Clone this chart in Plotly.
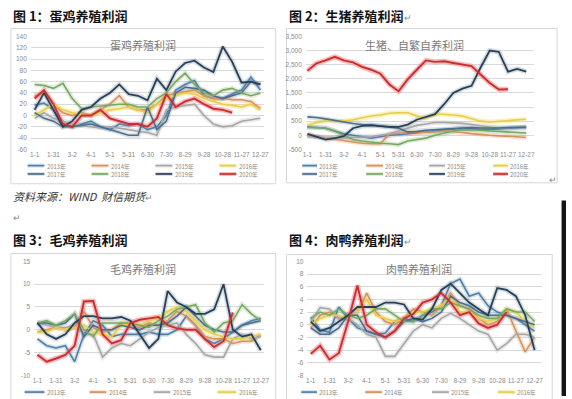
import plotly.graph_objects as go

W, H = 572, 399

# ---------------- data ----------------
DAYS = list(range(0, 361, 15))
TICK_DAYS = list(range(0, 361, 30))
TICK_LABELS = ["1-1", "1-31", "3-2", "4-1", "5-1", "5-31", "6-30", "7-30",
               "8-29", "9-28", "10-28", "11-27", "12-27"]
YEARS = ["2013年", "2014年", "2015年", "2016年", "2017年", "2018年", "2019年", "2020年"]

# 蛋鸡养殖利润
egg_2013 = [18, 22, 10, -15, -20, -15, -10, -20, -25, -15, -18, -15, -25, -20, 0, 45, 55, 62, 35, 30, 30, 38, 45, 68, 45]
egg_2014 = [35, 40, 20, 5, 0, 5, 0, 10, 20, 35, 15, 10, 10, 20, 35, 40, 42, 45, 35, 30, 30, 28, 28, 25, 12]
egg_2015 = [-5, 5, -5, -10, -15, -18, -20, -22, -20, -22, -25, -28, -30, -35, 10, 15, 18, 20, 0, -15, -20, -18, -10, -8, -5]
egg_2016 = [0, 10, 20, 10, 5, 2, 0, 5, 10, 12, 15, 10, 5, 20, 30, 35, 40, 38, 30, 25, 20, 18, 15, 20, 10]
egg_2017 = [5, -5, -10, -20, -20, -18, -15, -20, -25, -30, -35, -35, 15, -25, -10, 40, 50, 48, 45, 35, 30, 35, 40, 60, 55]
egg_2018 = [55, 53, 48, 57, 30, 12, 15, 17, 18, 20, 20, 15, 15, 30, 40, 60, 75, 55, 40, 35, 45, 48, 40, 35, 40]
egg_2019 = [10, 40, 10, -20, -10, 10, 15, 30, 40, 55, 38, 35, 27, 65, 45, 78, 93, 97, 85, 77, 122, 95, 58, 60, 55]
egg_2020 = [30, 45, 20, -15, -20, 0, 0, 10, -5, -10, -15, -15, -20, -5, 38, 15, 25, 30, 20, 12, 10, 5]

# 生猪、自繁自养利润
pig_2013 = [300, 280, 250, 150, 50, 0, -50, -100, -50, 0, 20, 50, 80, 100, 150, 200, 230, 250, 230, 200, 200, 220, 250, 280, 300]
pig_2014 = [0, -50, -100, -150, -200, -250, -280, -300, -300, 50, 80, 100, 100, 100, 120, 150, 130, 100, 60, 20, 0, -20, -30, -50, -80]
pig_2015 = [-50, -60, -80, -100, -100, -80, -60, -50, 0, 50, 150, 250, 350, 400, 450, 450, 440, 420, 380, 330, 280, 250, 260, 280, 300]
pig_2016 = [350, 450, 500, 500, 500, 550, 620, 680, 720, 780, 800, 800, 680, 600, 760, 750, 720, 680, 600, 500, 470, 500, 520, 550, 570]
pig_2017 = [650, 630, 580, 520, 470, 420, 380, 370, 330, 300, 250, 120, 130, 180, 200, 220, 250, 260, 270, 260, 250, 260, 270, 280, 280]
pig_2018 = [280, 280, 260, 150, 0, -150, -200, -250, -280, -300, -330, -200, -150, -100, 0, 80, 150, 200, 200, 180, 150, 130, 120, 100, 80]
pig_2019 = [50, -50, -150, -100, -30, 250, 330, 350, 320, 300, 300, 380, 550, 650, 750, 1100, 1500, 1650, 1750, 2400, 3000, 2950, 2250, 2350, 2250]
pig_2020 = [2280, 2550, 2650, 2780, 2650, 2580, 2420, 2320, 2180, 1800, 1560, 1980, 2320, 2650, 2600, 2620, 2560, 2500, 2450, 2150, 1850, 1620, 1630]

# 毛鸡养殖利润
brl_2013 = [-2, -3.5, -4, -3.5, -7, -1, 2, 1, -1.5, -1, -1, -1, -0.5, -1, -1, 0, 3, 1, -2, -3, -2, -0.5, 1, 2, 2.5]
brl_2014 = [-0.5, 0, 0.5, 0, 0.5, 4, 0.5, -0.5, 0, 1.5, 1, 0.5, 1.5, 1, 2, 4, 3, 1, -1.5, -2, -2, -3, -2.5, -2.5, -1]
brl_2015 = [1.5, 1, 0.5, 0.5, 1, -1, -1, -6, -4, -3, -3.5, -2, -0.5, 0.5, 1, 1.5, -1, -3, -5.5, -6, -6, -2, -1, -2, -1.5]
brl_2016 = [-0.5, -0.5, 0.5, 0, 0.5, 1, -0.5, -1, -1.5, 1, 1.5, 1, 2, 2.5, 4, 5, 4, 2, 0, -1, -1.5, -2, -2, -1.5, -1]
brl_2017 = [1.5, 1.5, 1, 1.5, 3.5, -1.5, 1, 0, 0, 1, 0.5, 0, 1, 1, 1.5, 3, 5, 3, 1, 0, -0.5, -0.5, 1, 1.5, 2]
brl_2018 = [1.5, 2, 1, 2, 3.5, 0, -1.5, 1.5, 1.5, 1.5, 1.5, 1, 0.5, 2, 3, 4.5, 5, 5.5, 1.5, -0.5, 1.5, 2, 5.5, 3.5, 2]
brl_2019 = [1.5, -1, -2, -1, 1.5, 3, 3, 2.5, 2.5, 2.8, 2, -1, -4, -2, 8.5, 6, 5, 3.5, 3.5, 4.5, 10, 0, -1.5, -1, -4.5]
brl_2020 = [-5.5, -7, -6.3, -5.5, -3.5, 6.2, 6.3, -1, -3, -2.3, 1.5, 2.2, 2.5, 2.8, 1, 0.3, 0, 0, -2, -3.8, -2.5, 3.8]

# 肉鸭养殖利润
duck_2013 = [1.2, -0.8, -1.2, 2.8, 1, -0.5, -1, -1.5, -1.3, 0.5, 1, 0.5, 1.5, 2, 3, 6.5, 7.2, 4.5, 5, 3, 2, 1.5, 1, 0, -1]
duck_2014 = [-0.5, 1.5, 2, 1, 1, 2, 5, 2, 0.5, 0, 1, 2.5, 2, 1.5, 3, 5, 3, 2.5, 1, 0, 0.5, 2.5, -1, -4.3, -2]
duck_2015 = [0.5, 2.7, 2.5, 1, 1, 0, -1.5, -2, -5, -5, -3, -1, 0, -0.5, 1, 1.8, 1, 0, -1, -1.5, -4, -3, -1.5, -1.5, -2]
duck_2016 = [0, 1, 1.5, 1.5, 1, 2, 4, 1.5, 1, 0.5, 1, 2, 2, 2.5, 3, 4.5, 2, 2, 1, 0.5, 1, 2.5, 2, 0.5, -0.5]
duck_2017 = [-0.5, -1.5, -1.5, -0.5, 1.5, 1.5, -1, -1.5, -2, -1, 0.5, 1, 0.5, 1, 2, 4.5, 3.5, 3, 2, 1.5, 1.5, 1.5, 1, 0.5, 0]
duck_2018 = [1, 2, 1.5, 2.5, 1.5, 1, 1.5, 2.5, 2.5, 1.5, 0.5, 0.5, 1.5, 2.5, 2.5, 3.5, 3, 2.5, 1.5, 1, 1, 2.5, 2, 2, 0.5]
duck_2019 = [0.5, -1, -0.5, 0.5, 1.5, 2.8, 2.8, 2.8, 3.5, 3.5, 3.2, 1, 0.8, 2.5, 5.5, 6.5, 5, 3.5, 2.5, 1.5, 5.8, 5.5, 4.5, 1.5, -4]
duck_2020 = [-4.6, -3.3, -5.5, -4.5, 0.5, 6.2, 0, -1.2, -2, -1, 1, 1.7, 3.5, 4, 5, 3.5, 1.5, 2, 0.2, -0.5, 0, 2]

# ---------------- styling ----------------
COLORS = ["#4f7fa8", "#d4935e", "#a6a6a6", "#e6cd4c", "#4a6d8c", "#76a95e", "#26405a", "#c8302e"]
GLOWS = ["rgba(79,127,168,0.22)", "rgba(230,160,110,0.30)", "rgba(170,170,170,0.25)",
         "rgba(245,225,110,0.45)", "rgba(74,109,140,0.20)", "rgba(130,180,110,0.25)",
         "rgba(38,64,90,0.18)", "rgba(245,130,140,0.55)"]
WIDTHS = [1.6, 1.6, 1.6, 1.6, 1.6, 1.6, 1.8, 1.9]
GRID = "#d9d9d9"
TICKFONT = dict(family="Liberation Sans, Arial", size=6.5, color="#8a8a8a")
CJK = "Noto Sans CJK SC"

def px_x(x):
    return x / W

def px_y(y):
    return 1 - y / H

charts = [
    dict(series=[egg_2013, egg_2014, egg_2015, egg_2016, egg_2017, egg_2018, egg_2019, egg_2020],
         xr=[-6, 365.5], xd=(28.3, 265.0), yr=[-60, 140], yd=(33, 148), dtick=20,
         title="蛋鸡养殖利润", tpos=(142, 42), box=(8, 25, 277, 183),
         leg_cols=[(25, 42), (90, 107), (155, 172), (220, 237)], leg_rows=[164.5, 173]),
    dict(series=[pig_2013, pig_2014, pig_2015, pig_2016, pig_2017, pig_2018, pig_2019, pig_2020],
         xr=[-2.5, 372], xd=(307.7, 539.0), yr=[-500, 3500], yd=(33, 148), dtick=500,
         title="生猪、自繁自养利润", tpos=(418, 42), box=(288, 25, 563, 182),
         leg_cols=[(304, 319), (369, 386), (433, 449), (498, 513)], leg_rows=[164.5, 173]),
    dict(series=[brl_2013, brl_2014, brl_2015, brl_2016, brl_2017, brl_2018, brl_2019, brl_2020],
         xr=[-5.2, 365], xd=(31.7, 265.0), yr=[-10, 15], yd=(262, 378), dtick=5,
         title="毛鸡养殖利润", tpos=(142, 270), box=(8, 254, 277, 420),
         leg_cols=[(22, 42), (88, 105), (153, 170), (218, 237)], leg_rows=[395]),
    dict(series=[duck_2013, duck_2014, duck_2015, duck_2016, duck_2017, duck_2018, duck_2019, duck_2020],
         xr=[-5.4, 372.6], xd=(309.3, 548.0), yr=[-8, 10], yd=(262, 378), dtick=2,
         title="肉鸭养殖利润", tpos=(423, 270), box=(288, 255, 558, 420),
         leg_cols=[(303, 319), (368, 385), (436, 453), (503, 520)], leg_rows=[395]),
]

fig = go.Figure()
shapes = []
annotations = []
layout_axes = {}


def fmt(v):
    return f"{v:,}" if abs(v) >= 1000 else str(v)

for i, ch in enumerate(charts, start=1):
    xa = "x" if i == 1 else f"x{i}"
    ya = "y" if i == 1 else f"y{i}"
    xkey = "xaxis" if i == 1 else f"xaxis{i}"
    ykey = "yaxis" if i == 1 else f"yaxis{i}"

    bx0, by0, bx1, by1 = ch["box"]
    shapes.append(dict(type="rect", xref="paper", yref="paper",
                       x0=px_x(bx0), x1=px_x(bx1), y0=px_y(by1), y1=px_y(by0),
                       line=dict(color="#d6d6d6", width=1), fillcolor="white", layer="below"))

    yvals = list(range(ch["yr"][0], ch["yr"][1] + 1, ch["dtick"]))
    layout_axes[xkey] = dict(domain=[px_x(ch["xd"][0]), px_x(ch["xd"][1])], range=ch["xr"],
                             anchor=ya, tickvals=TICK_DAYS, ticktext=TICK_LABELS,
                             showgrid=False, zeroline=False, showline=False, ticks="",
                             tickfont=TICKFONT, tickangle=0, fixedrange=True)
    layout_axes[ykey] = dict(domain=[px_y(ch["yd"][1]), px_y(ch["yd"][0])], range=ch["yr"],
                             anchor=xa, tickvals=yvals, ticktext=[fmt(v) for v in yvals],
                             showgrid=True, gridcolor=GRID, gridwidth=0.8, zeroline=False,
                             showline=False, ticks="", tickfont=TICKFONT, ticklabelstandoff=3,
                             fixedrange=True)

    for k, ys in enumerate(ch["series"]):
        fig.add_trace(go.Scatter(x=DAYS[:len(ys)], y=ys, xaxis=xa, yaxis=ya, mode="lines",
                                 line=dict(color=GLOWS[k], width=WIDTHS[k] + 3.2),
                                 hoverinfo="skip", showlegend=False))
    for k, ys in enumerate(ch["series"]):
        fig.add_trace(go.Scatter(x=DAYS[:len(ys)], y=ys, xaxis=xa, yaxis=ya, mode="lines",
                                 line=dict(color=COLORS[k], width=WIDTHS[k]),
                                 name=YEARS[k], showlegend=False))

    annotations.append(dict(x=px_x(ch["tpos"][0]), y=px_y(ch["tpos"][1]), xref="paper", yref="paper",
                            text=ch["title"], showarrow=False, xanchor="center", yanchor="middle",
                            font=dict(family=CJK, size=11, color="#7a7a7a")))

    nrows = len(ch["leg_rows"])
    for k in range(4 * nrows):
        r, c = divmod(k, 4)
        lx0, lx1 = ch["leg_cols"][c]
        ly = ch["leg_rows"][r]
        shapes.append(dict(type="line", xref="paper", yref="paper",
                           x0=px_x(lx0), x1=px_x(lx1), y0=px_y(ly), y1=px_y(ly),
                           line=dict(color=GLOWS[k], width=4.0)))
        shapes.append(dict(type="line", xref="paper", yref="paper",
                           x0=px_x(lx0), x1=px_x(lx1), y0=px_y(ly), y1=px_y(ly),
                           line=dict(color=COLORS[k], width=1.7)))
        annotations.append(dict(x=px_x(lx1 + 0.5), y=px_y(ly), xref="paper", yref="paper",
                                text=YEARS[k], showarrow=False, xanchor="left", yanchor="middle",
                                height=8, font=dict(family=CJK, size=5.8, color="#8a8a8a")))

caps = [("图 1：蛋鸡养殖利润", 8, 12, False), ("图 2：生猪养殖利润", 289, 12, True),
        ("图 3：毛鸡养殖利润", 8, 240, False), ("图 4：肉鸭养殖利润", 289, 240, True)]
for text, cx, cy, mark in caps:
    t = f"<b>{text}</b>"
    if mark:
        t += "<span style='font-size:9px;color:#888888'>↵</span>"
    annotations.append(dict(x=px_x(cx), y=px_y(cy), xref="paper", yref="paper", text=t,
                            showarrow=False, xanchor="left", yanchor="middle",
                            font=dict(family=CJK, size=13, color="#111111")))

annotations.append(dict(x=px_x(8), y=px_y(195), xref="paper", yref="paper",
                        text="<i>资料来源：WIND  财信期货</i><span style='font-size:9px;color:#888888'>↵</span>",
                        showarrow=False, xanchor="left", yanchor="middle",
                        font=dict(family=CJK, size=11, color="#333333")))
annotations.append(dict(x=px_x(8), y=px_y(217), xref="paper", yref="paper", text="↵",
                        showarrow=False, xanchor="left", yanchor="middle",
                        font=dict(family=CJK, size=9, color="#888888")))
annotations.append(dict(x=px_x(553), y=px_y(179), xref="paper", yref="paper", text="↵",
                        showarrow=False, xanchor="left", yanchor="middle",
                        font=dict(family=CJK, size=9, color="#888888")))

# dark strip at the page's lower right edge
shapes.append(dict(type="rect", xref="paper", yref="paper",
                   x0=px_x(567.5), x1=1.0, y0=0.0, y1=px_y(200),
                   line=dict(width=0), fillcolor="#151515"))

fig.update_layout(width=W, height=H, margin=dict(l=0, r=0, t=0, b=0),
                  paper_bgcolor="white", plot_bgcolor="rgba(0,0,0,0)",
                  showlegend=False, shapes=shapes, annotations=annotations,
                  **layout_axes)

fig.write_html("out.html", config={"displayModeBar": False},
               post_script="document.body.style.margin='0';document.body.style.padding='0';")
